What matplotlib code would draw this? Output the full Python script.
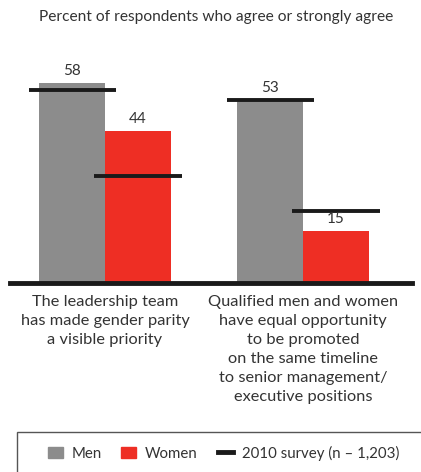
import matplotlib.pyplot as plt
from matplotlib.patches import Rectangle
from matplotlib.lines import Line2D

plt.rcParams['font.family'] = ['Lato', 'DejaVu Sans']

categories = ['The leadership team\nhas made gender parity\na visible priority',
              'Qualified men and women\nhave equal opportunity\nto be promoted\non the same timeline\nto senior management/\nexecutive positions']
men = [58, 53]
women = [44, 15]
survey_2010_men = [56, 53]
survey_2010_women = [31, 21]

grey = '#8c8c8c'
red = '#ee2e24'
W, H = 421, 472

fig = plt.figure(figsize=(W / 100, H / 100), dpi=100)
# axes: baseline at y=283px, spanning x 10..412px
ax = fig.add_axes([10 / W, (H - 283) / H, 402 / W, 223 / H])
bw = 0.333
x = [0, 1]
xm = [i - bw / 2 for i in x]
xw = [i + bw / 2 for i in x]
ax.bar(xm, men, width=bw, color=grey)
ax.bar(xw, women, width=bw, color=red)
lw_half = 0.22
for i in range(2):
    ax.plot([xm[i] - lw_half, xm[i] + lw_half], [survey_2010_men[i]] * 2,
            color='#1a1a1a', lw=2.8, solid_capstyle='butt')
    ax.plot([xw[i] - lw_half, xw[i] + lw_half], [survey_2010_women[i]] * 2,
            color='#1a1a1a', lw=2.8, solid_capstyle='butt')
    ax.text(xm[i], men[i] + 1.4, str(men[i]), ha='center', va='bottom',
            fontsize=11, color='#333333')
    ax.text(xw[i], women[i] + 1.4, str(women[i]), ha='center', va='bottom',
            fontsize=11, color='#333333')
    ax.text(x[i], -3.6, categories[i], ha='center', va='top', fontsize=11.8,
            color='#333333', linespacing=1.45)

ax.set_xlim(-0.48, 1.55)
ax.set_ylim(0, 64.6)
ax.axhline(0, color='#1a1a1a', lw=3.5, clip_on=False)
for s in ax.spines.values():
    s.set_visible(False)
ax.set_xticks([])
ax.set_yticks([])
ax.patch.set_alpha(0)

fig.text(216 / W, 1 - 17 / H, 'Percent of respondents who agree or strongly agree',
         ha='center', va='center', fontsize=11.2, color='#333333')

# legend box running off the right and bottom edges
fig.patches.append(Rectangle((17 / W, -0.05), 1.0, (H - 432) / H + 0.05,
                             transform=fig.transFigure, fill=False,
                             edgecolor='#555555', lw=1))
handles = [Rectangle((0, 0), 1, 1, color=grey),
           Rectangle((0, 0), 1, 1, color=red),
           Line2D([0], [0], color='#1a1a1a', lw=3.5)]
fig.legend(handles, ['Men', 'Women', '2010 survey (n – 1,203)'],
           loc='center left', bbox_to_anchor=(34 / W, 1 - 453 / H), ncol=3,
           frameon=False, fontsize=10.8, handlelength=1.0, handletextpad=0.6,
           columnspacing=1.3, labelcolor='#333333')

fig.savefig('out.png', dpi=100)
